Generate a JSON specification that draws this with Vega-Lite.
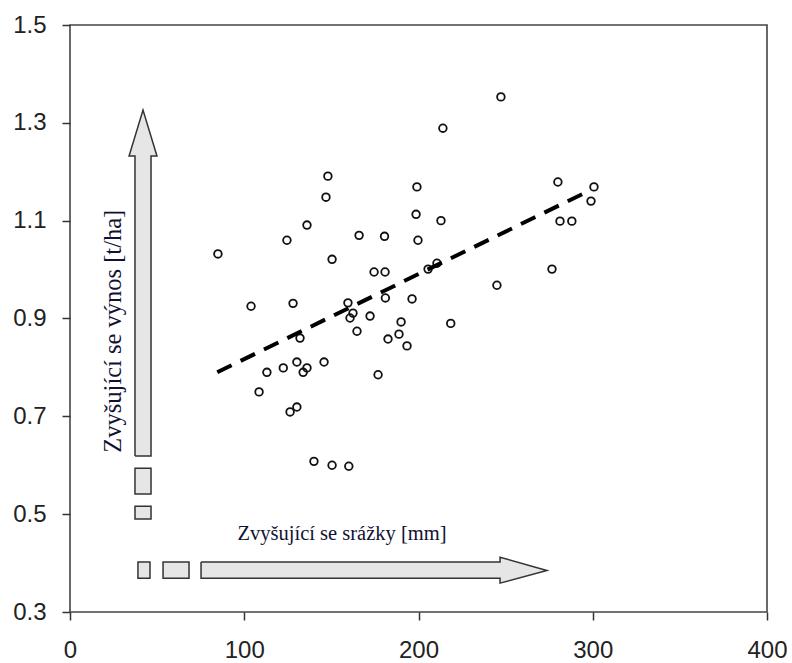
{
  "$schema": "https://vega.github.io/schema/vega-lite/v6.json",
  "width": 697,
  "height": 587,
  "autosize": {"type": "none"},
  "padding": {"left": 70, "top": 25, "right": 25, "bottom": 51},
  "background": "white",
  "config": {
    "view": {"stroke": "#444", "strokeWidth": 1.6},
    "axis": {
      "grid": false,
      "domain": false,
      "labelFlush": false,
      "tickColor": "#333",
      "tickWidth": 1.5,
      "tickSize": 8,
      "labelFont": "Liberation Sans",
      "labelFontSize": 24,
      "labelColor": "#222",
      "titleFontSize": 0
    }
  },
  "datasets": {
    "points": [
      {"x": 84.9, "y": 1.032}, {"x": 103.9, "y": 0.925}, {"x": 128, "y": 0.931},
      {"x": 124.5, "y": 1.06}, {"x": 136, "y": 1.091}, {"x": 146.9, "y": 1.148},
      {"x": 148, "y": 1.191}, {"x": 150.4, "y": 1.021}, {"x": 165.9, "y": 1.07},
      {"x": 180.5, "y": 1.068}, {"x": 174.5, "y": 0.995}, {"x": 180.8, "y": 0.995},
      {"x": 181, "y": 0.942}, {"x": 159.5, "y": 0.932}, {"x": 162.4, "y": 0.911},
      {"x": 160.7, "y": 0.901}, {"x": 172.2, "y": 0.905}, {"x": 164.7, "y": 0.874},
      {"x": 182.5, "y": 0.858}, {"x": 196.3, "y": 0.94}, {"x": 190, "y": 0.893},
      {"x": 188.8, "y": 0.868}, {"x": 193.4, "y": 0.844}, {"x": 218.5, "y": 0.89},
      {"x": 176.8, "y": 0.785}, {"x": 140, "y": 0.608}, {"x": 150.4, "y": 0.6},
      {"x": 160, "y": 0.598}, {"x": 132, "y": 0.86}, {"x": 113, "y": 0.79},
      {"x": 122.4, "y": 0.799}, {"x": 130.2, "y": 0.811}, {"x": 136, "y": 0.799},
      {"x": 133.8, "y": 0.79}, {"x": 145.8, "y": 0.811}, {"x": 108.5, "y": 0.75},
      {"x": 126.3, "y": 0.709}, {"x": 130.2, "y": 0.719}, {"x": 199.1, "y": 1.169},
      {"x": 198.6, "y": 1.113}, {"x": 212.9, "y": 1.1}, {"x": 199.7, "y": 1.06},
      {"x": 205.5, "y": 1.001}, {"x": 210.6, "y": 1.013}, {"x": 247.3, "y": 1.353},
      {"x": 214, "y": 1.289}, {"x": 280, "y": 1.179}, {"x": 300.7, "y": 1.169},
      {"x": 299, "y": 1.14}, {"x": 281.2, "y": 1.099}, {"x": 288, "y": 1.099},
      {"x": 276.6, "y": 1.001}, {"x": 245, "y": 0.968}
    ],
    "fit": [{"x": 84.5, "y": 0.79}, {"x": 295, "y": 1.156}],
    "arrows": [
      {"arrow": "v", "i": 1, "x": 37.3, "y": 0.619},
      {"arrow": "v", "i": 2, "x": 37.3, "y": 1.232},
      {"arrow": "v", "i": 3, "x": 33.9, "y": 1.232},
      {"arrow": "v", "i": 4, "x": 41.9, "y": 1.326},
      {"arrow": "v", "i": 5, "x": 49.9, "y": 1.232},
      {"arrow": "v", "i": 6, "x": 46.5, "y": 1.232},
      {"arrow": "v", "i": 7, "x": 46.5, "y": 0.619},
      {"arrow": "v", "i": 8, "x": 37.3, "y": 0.619},
      {"arrow": "h", "i": 1, "x": 75.2, "y": 0.402},
      {"arrow": "h", "i": 2, "x": 246.8, "y": 0.402},
      {"arrow": "h", "i": 3, "x": 246.8, "y": 0.412},
      {"arrow": "h", "i": 4, "x": 273.7, "y": 0.385},
      {"arrow": "h", "i": 5, "x": 246.8, "y": 0.359},
      {"arrow": "h", "i": 6, "x": 246.8, "y": 0.369},
      {"arrow": "h", "i": 7, "x": 75.2, "y": 0.369},
      {"arrow": "h", "i": 8, "x": 75.2, "y": 0.402}
    ],
    "boxes": [
      {"x": 37.3, "x2": 46.5, "y": 0.541, "y2": 0.594},
      {"x": 37.3, "x2": 46.5, "y": 0.49, "y2": 0.516},
      {"x": 39.0, "x2": 45.9, "y": 0.369, "y2": 0.402},
      {"x": 53.4, "x2": 68.3, "y": 0.369, "y2": 0.402}
    ],
    "vlabel": [{"x": 25.3, "y": 0.874, "text": "Zvyšující se výnos [t/ha]"}],
    "hlabel": [{"x": 156.1, "y": 0.46, "text": "Zvyšující se srážky [mm]"}]
  },
  "layer": [
    {
      "data": {"name": "boxes"},
      "mark": {"type": "rect", "fill": "#e6e6e6", "stroke": "#333", "strokeWidth": 1.5},
      "encoding": {
        "x": {"field": "x", "type": "quantitative", "scale": {"domain": [0, 400], "nice": false},
              "axis": {"values": [0, 100, 200, 300, 400], "labelPadding": 18, "title": null}},
        "x2": {"field": "x2"},
        "y": {"field": "y", "type": "quantitative", "scale": {"domain": [0.3, 1.5], "nice": false, "zero": false},
              "axis": {"values": [0.3, 0.5, 0.7, 0.9, 1.1, 1.3, 1.5], "format": ".1f", "labelPadding": 16, "title": null}},
        "y2": {"field": "y2"}
      }
    },
    {
      "data": {"name": "arrows"},
      "mark": {"type": "line", "fill": "#e6e6e6", "stroke": "#333", "strokeWidth": 1.5, "strokeJoin": "miter"},
      "encoding": {
        "x": {"field": "x", "type": "quantitative"},
        "y": {"field": "y", "type": "quantitative"},
        "detail": {"field": "arrow"},
        "order": {"field": "i", "type": "quantitative"}
      }
    },
    {
      "data": {"name": "points"},
      "mark": {"type": "point", "shape": "circle", "filled": false, "color": "#111", "size": 58, "strokeWidth": 1.8, "opacity": 1},
      "encoding": {
        "x": {"field": "x", "type": "quantitative"},
        "y": {"field": "y", "type": "quantitative"}
      }
    },
    {
      "data": {"name": "fit"},
      "mark": {"type": "line", "color": "#000", "strokeWidth": 4, "strokeDash": [16, 10], "strokeCap": "butt"},
      "encoding": {
        "x": {"field": "x", "type": "quantitative"},
        "y": {"field": "y", "type": "quantitative"}
      }
    },
    {
      "data": {"name": "vlabel"},
      "mark": {"type": "text", "angle": 270, "font": "Liberation Serif", "fontSize": 24.5, "color": "#111133", "align": "center", "baseline": "middle"},
      "encoding": {
        "x": {"field": "x", "type": "quantitative"},
        "y": {"field": "y", "type": "quantitative"},
        "text": {"field": "text"}
      }
    },
    {
      "data": {"name": "hlabel"},
      "mark": {"type": "text", "font": "Liberation Serif", "fontSize": 20.5, "color": "#111133", "align": "center", "baseline": "middle"},
      "encoding": {
        "x": {"field": "x", "type": "quantitative"},
        "y": {"field": "y", "type": "quantitative"},
        "text": {"field": "text"}
      }
    }
  ]
}
